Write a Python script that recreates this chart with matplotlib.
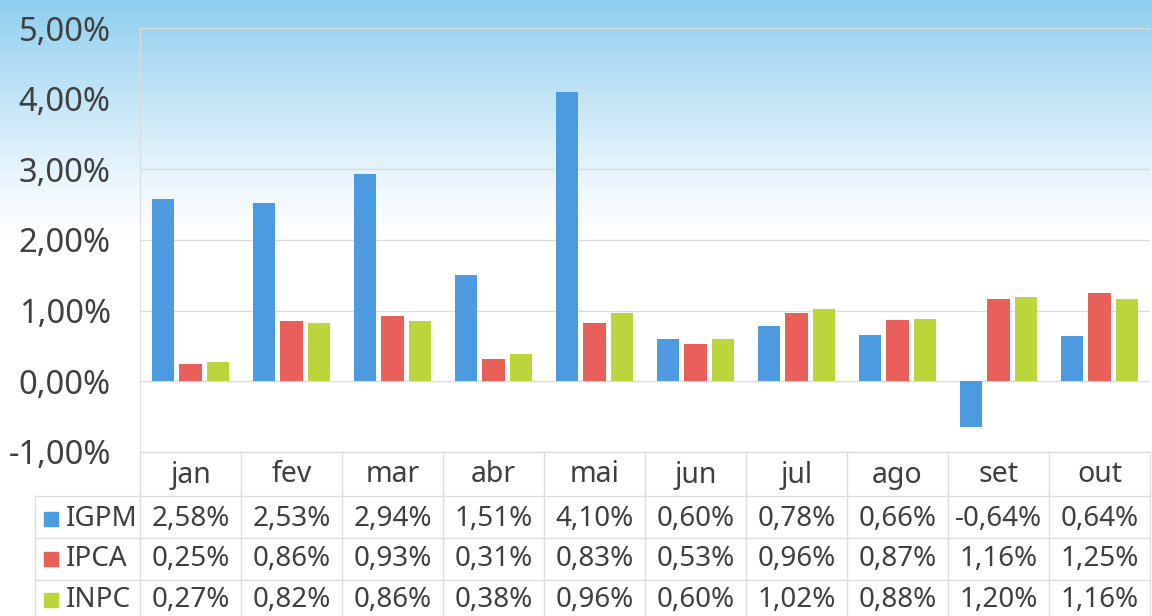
import numpy as np
import matplotlib.pyplot as plt

# data
months = ["jan", "fev", "mar", "abr", "mai", "jun", "jul", "ago", "set", "out"]
series = ["IGPM", "IPCA", "INPC"]
igpm = [2.58, 2.53, 2.94, 1.51, 4.10, 0.60, 0.78, 0.66, -0.64, 0.64]
ipca = [0.25, 0.86, 0.93, 0.31, 0.83, 0.53, 0.96, 0.87, 1.16, 1.25]
inpc = [0.27, 0.82, 0.86, 0.38, 0.96, 0.60, 1.02, 0.88, 1.20, 1.16]
colors = ["#4c9be0", "#e9605a", "#bcd53b"]

plt.rcParams['font.family'] = ['Noto Sans', 'DejaVu Sans']
txt = "#3f3f3f"
grid_c = "#dcdcdc"

W, H = 1152, 616
fig = plt.figure(figsize=(W / 100, H / 100), dpi=100)

# background gradient (light blue at top fading to white)
bg = fig.add_axes([0, 0, 1, 1])
bg.axis('off')
yy = np.arange(H)
alpha = np.clip(1 - yy / 240.0, 0, 1) ** 1.2
grad = np.zeros((H, 1, 4))
grad[..., 0] = 0.56
grad[..., 1] = 0.81
grad[..., 2] = 0.94
grad[:, 0, 3] = alpha
bg.imshow(grad, extent=[0, W, H, 0], aspect='auto')
bg.set_xlim(0, W)
bg.set_ylim(H, 0)

def fmt(v):
    return f"{v:.2f}%".replace('.', ',')

# chart area
left, right, top, bottom = 140, 1150, 28, 452
ax = fig.add_axes([left / W, (H - bottom) / H, (right - left) / W, (bottom - top) / H])
ax.patch.set_alpha(0)
x = np.arange(len(months))
width = 0.218
step = 0.277
for k, vals in enumerate([igpm, ipca, inpc]):
    ax.bar(x + (k - 1) * step, vals, width, color=colors[k], zorder=3)

ax.set_xlim(-0.5, len(months) - 0.5)
ax.set_ylim(-1, 5)
ax.set_yticks(np.arange(-1, 6, 1))
ax.set_yticklabels([fmt(v) for v in np.arange(-1, 6, 1)], fontsize=23.5, color=txt)
ax.tick_params(axis='y', length=0, pad=21)
ax.set_xticks([])
ax.grid(axis='y', color=grid_c, linewidth=1)
for s in ['top', 'right', 'bottom']:
    ax.spines[s].set_visible(False)
ax.spines['left'].set_color(grid_c)

# data table below the chart
tleft = 35
col_w = (right - left) / len(months)
tab = fig.add_axes([tleft / W, 0, (right - tleft) / W, (H - bottom) / H])
tab.axis('off')
x0 = -0.5 - (left - tleft) / col_w
tab.set_xlim(x0, len(months) - 0.5)
tab.set_ylim(H, bottom)

row_edges = [452, 496, 538, 580]
row_mid = [475, 519, 559, 600]
# horizontal lines
tab.plot([-0.5, len(months) - 0.5], [row_edges[0]] * 2, color=grid_c, lw=1, clip_on=False)
for r in row_edges[1:]:
    tab.plot([x0, len(months) - 0.5], [r, r], color=grid_c, lw=1, clip_on=False)
# vertical lines
for i in range(len(months) + 1):
    tab.plot([i - 0.5] * 2, [row_edges[0], H], color=grid_c, lw=1, clip_on=False)
tab.plot([x0, x0], [row_edges[1], H], color=grid_c, lw=1, clip_on=False)

for i, m in enumerate(months):
    tab.text(i, row_mid[0], m, ha='center', va='center', fontsize=20.5, color=txt)

for k, (name, vals) in enumerate(zip(series, [igpm, ipca, inpc])):
    y = row_mid[k + 1]
    tab.scatter([x0 + 0.16], [y], marker='s', s=110, color=colors[k], clip_on=False)
    tab.text(x0 + 0.31, y, name, ha='left', va='center', fontsize=20, color=txt)
    for i, v in enumerate(vals):
        tab.text(i, y, fmt(v), ha='center', va='center', fontsize=20, color=txt)

fig.savefig("out.png", dpi=100)
